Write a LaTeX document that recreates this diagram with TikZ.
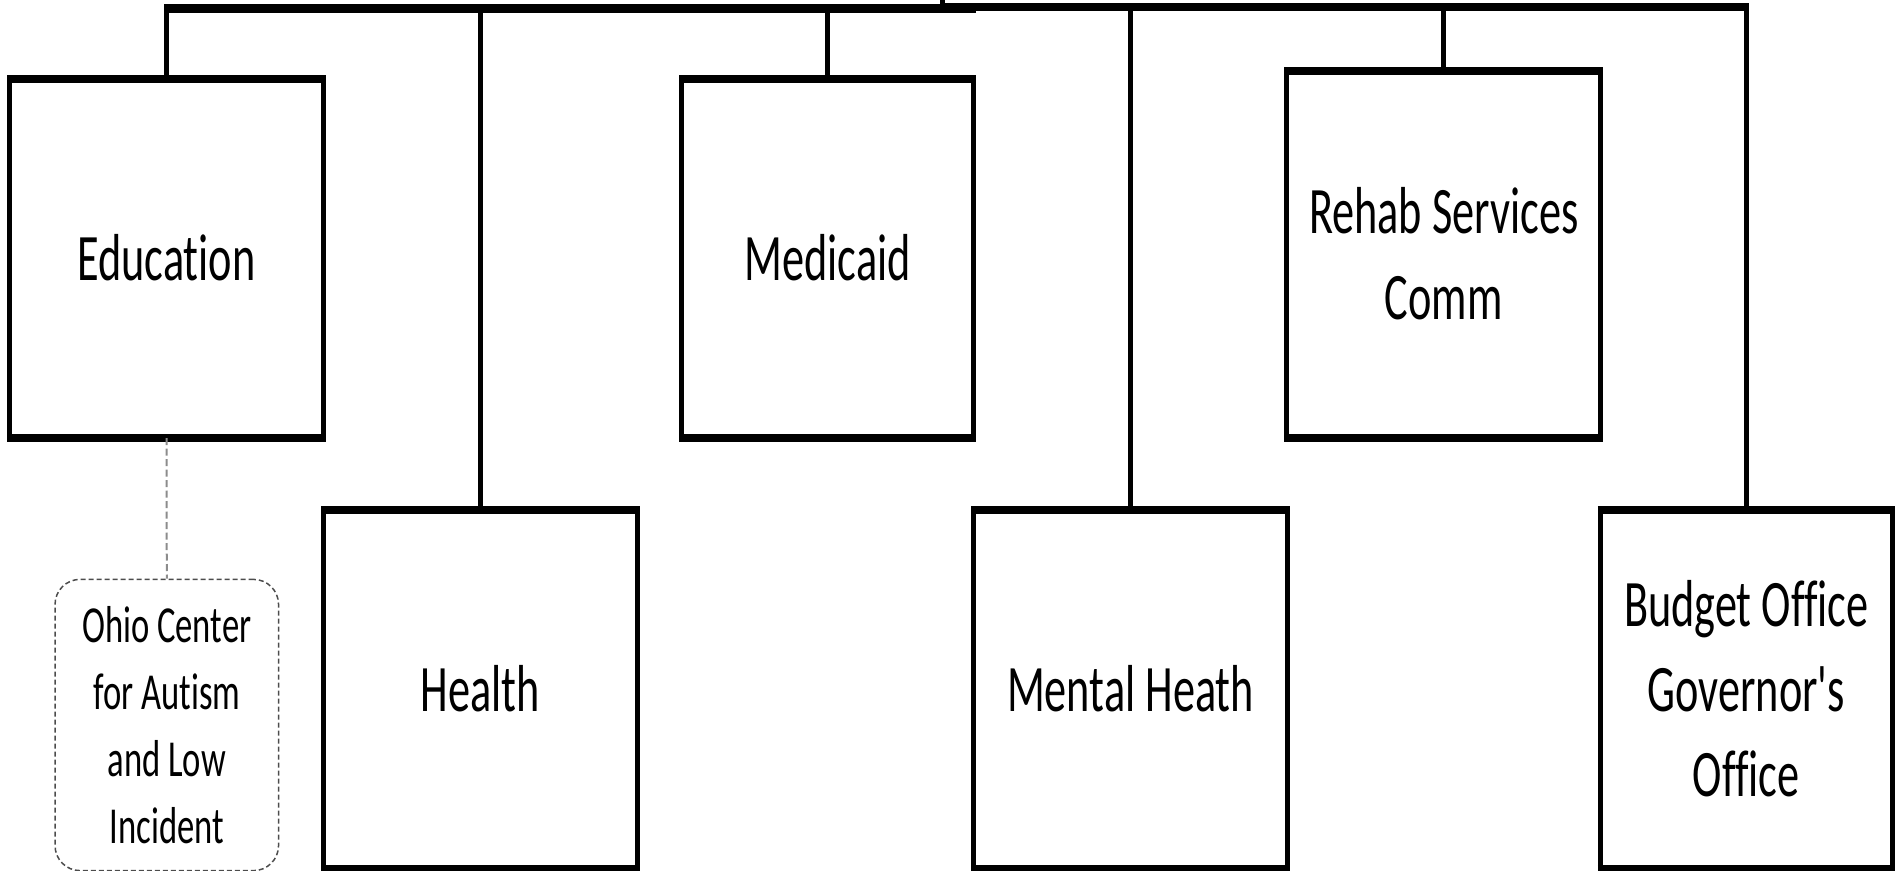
\documentclass[tikz,border=0pt]{standalone}
\usepackage{fontspec}
\setmainfont{Carlito}[Ligatures={TeX,NoCommon}]
\usepackage{graphicx}
\usepackage{tikz}

\newcommand{\stretchrows}[1]{\raisebox{-0.5mm}[\height][\depth]{\scalebox{1}[1.5]{\begin{tabular}{@{}c@{}}#1\end{tabular}}}}

\begin{document}
\begin{tikzpicture}[x=0.1mm, y=-0.1mm,
    hedge/.style={line width=0.85mm, shorten <=-0.25mm, shorten >=-0.25mm},
    unitbox/.style={draw, line width=0.5mm, outer sep=0pt, inner sep=0pt,
        minimum width=31.4mm, minimum height=35.9mm,
        font=\fontsize{12.6}{16.2}\selectfont,
        append after command={(\tikzlastnode.north west) edge[hedge] (\tikzlastnode.north east)
            (\tikzlastnode.south west) edge[hedge] (\tikzlastnode.south east)}},
    narrowbox/.style={unitbox, minimum width=29.2mm},
    centerbox/.style={draw=black!70, line width=0.15mm, dash pattern=on 0.5mm off 0.3mm,
        rounded corners=2.5mm, minimum width=22.35mm, minimum height=28.5mm,
        font=\fontsize{9.85}{12.7}\selectfont},
    link/.style={line width=0.5mm},
    bar/.style={line width=0.85mm},
    dashlink/.style={draw=black!45, line width=0.2mm, dash pattern=on 0.7mm off 0.35mm}]
    \useasboundingbox (0,0) rectangle (1900,871);
    % upper row
    \node[unitbox] (edu) at (166.5,258.5) {\stretchrows{Education}};
    \node[narrowbox] (medicaid) at (827.7,258.5) {\stretchrows{Medicaid}};
    \node[unitbox, minimum height=36.7mm] (rehab) at (1443.8,254.5) {\stretchrows{Rehab Services\\Comm}};
    % lower row
    \node[unitbox] (health) at (480.5,689.5) {\stretchrows{Health}};
    \node[unitbox] (mental) at (1130.5,689.5) {\stretchrows{Mental Heath}};
    \node[narrowbox] (budget) at (1746.3,689.5) {\stretchrows{Budget Office\\Governor\textquotesingle s\\Office}};
    \node[centerbox] (ohio) at (166.8,725) {\stretchrows{Ohio Center\\for Autism\\and Low\\Incident}};
    % bars along the top
    \coordinate (apex) at (942,0);
    \coordinate (lbarW) at (164,8.7);
    \coordinate (lbarE) at (976,8.7);
    \coordinate (rbarW) at (940,6.8);
    \coordinate (rbarE) at (1749,6.8);
    \draw[bar] (lbarW) -- (lbarE);
    \draw[bar] (rbarW) -- (rbarE);
    \draw[link] (apex) -- (apex |- lbarW);
    \foreach \unit in {edu, health, medicaid}
        \draw[link] (\unit.north) -- (\unit.north |- lbarW);
    \foreach \unit in {mental, rehab, budget}
        \draw[link] (\unit.north) -- (\unit.north |- rbarW);
    \draw[dashlink] (edu.south) -- (ohio.north);
\end{tikzpicture}
\end{document}
